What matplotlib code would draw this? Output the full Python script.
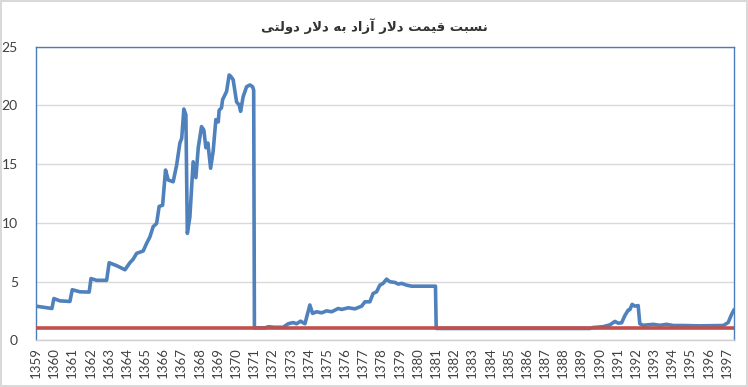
import matplotlib
matplotlib.use("Agg")
import matplotlib.pyplot as plt

# ====== DATA ======
# free-market dollar / official dollar ratio, by (fractional) Iranian year
years = [
    1359.00, 1359.88, 1359.99, 1360.32, 1360.87, 1361.00, 1361.42, 1361.93,
    1362.03, 1362.34, 1362.89, 1363.03, 1363.44, 1363.90, 1364.17, 1364.35,
    1364.54, 1364.90, 1365.09, 1365.27, 1365.45, 1365.64, 1365.78, 1365.97,
    1366.13, 1366.28, 1366.55, 1366.74, 1366.92, 1367.02, 1367.14, 1367.25,
    1367.33, 1367.47, 1367.65, 1367.80, 1367.93, 1368.11, 1368.24, 1368.35,
    1368.46, 1368.61, 1368.75, 1368.90, 1369.03, 1369.08, 1369.21, 1369.27,
    1369.49, 1369.63, 1369.71, 1369.85, 1370.04, 1370.18, 1370.26, 1370.40,
    1370.59, 1370.77, 1370.92, 1370.98, 1371.02, 1371.60, 1371.80, 1372.10,
    1372.60, 1372.88, 1373.15, 1373.34, 1373.56, 1373.80, 1374.07, 1374.22,
    1374.44, 1374.72, 1374.99, 1375.27, 1375.63, 1375.82, 1376.18, 1376.55,
    1376.92, 1377.10, 1377.37, 1377.55, 1377.74, 1377.92, 1378.10, 1378.29,
    1378.47, 1378.75, 1378.93, 1379.12, 1379.39, 1379.67, 1380.86, 1380.98,
    1381.02, 1389.47, 1389.65, 1390.20, 1390.57, 1390.85, 1391.03, 1391.22,
    1391.40, 1391.58, 1391.67, 1391.80, 1391.95, 1392.13, 1392.22, 1392.40,
    1392.96, 1393.32, 1393.69, 1394.06, 1394.60, 1395.50, 1396.81, 1397.08,
    1397.27, 1397.39,
]
free_ratio = [
    2.90, 2.70, 3.55, 3.35, 3.30, 4.30, 4.12, 4.10,
    5.25, 5.10, 5.10, 6.60, 6.35, 6.00, 6.60, 6.90,
    7.40, 7.60, 8.25, 8.80, 9.67, 9.95, 11.40, 11.50,
    14.50, 13.65, 13.50, 14.90, 16.80, 17.20, 19.70, 19.20,
    9.10, 10.50, 15.20, 13.85, 16.40, 18.20, 17.90, 16.40,
    16.80, 14.65, 16.10, 18.80, 18.60, 19.60, 19.80, 20.50,
    21.20, 22.60, 22.50, 22.20, 20.30, 20.05, 19.50, 20.75,
    21.60, 21.75, 21.60, 21.30, 1.05, 1.05, 1.15, 1.10,
    1.10, 1.40, 1.50, 1.40, 1.62, 1.40, 3.00, 2.28,
    2.42, 2.33, 2.50, 2.42, 2.70, 2.62, 2.76, 2.67,
    2.90, 3.27, 3.27, 3.98, 4.12, 4.69, 4.84, 5.20,
    4.98, 4.92, 4.78, 4.84, 4.69, 4.60, 4.60, 4.60,
    1.00, 1.00, 1.08, 1.15, 1.30, 1.60, 1.45, 1.48,
    2.10, 2.56, 2.60, 3.05, 2.90, 2.95, 1.40, 1.27,
    1.35, 1.27, 1.35, 1.25, 1.25, 1.22, 1.25, 1.50,
    2.20, 2.55,
]

# official rate reference (ratio = 1)
official_years = [1359.00, 1397.39]
official_ratio = [1.0, 1.0]

tick_years = list(range(1359, 1398))
y_ticks = [0, 5, 10, 15, 20, 25]

# title, shaped by hand (Arabic presentation forms, logical order)
title_logical = (
    "\uFEE7\uFEB4\uFE92\uFE96 "          # nesbat
    "\uFED7\uFEF4\uFEE4\uFE96 "          # gheymat
    "\uFEA9\uFEFB\uFEAD "                # dolar
    "\uFE81\uFEAF\uFE8D\uFEA9 "          # azad
    "\uFE91\uFEEA "                      # be
    "\uFEA9\uFEFB\uFEAD "                # dolar
    "\uFEA9\uFEED\uFEDF\uFE98\uFEF0"     # dolati
)
title_text = title_logical[::-1]  # visual (right-to-left) order

# ====== PLOTTING ======
fig = plt.figure(figsize=(7.48, 3.87), dpi=100)
fig.patch.set_facecolor("white")
fig.patch.set_edgecolor("#d9d9d9")
fig.patch.set_linewidth(1.5)

ax = fig.add_axes([0.048, 0.121, 0.933, 0.758])

ax.plot(years, free_ratio, color="#4F81BD", linewidth=2.6,
        solid_joinstyle="round", zorder=3)
ax.plot(official_years, official_ratio, color="#C0504D", linewidth=2.6,
        zorder=4)

ax.set_xlim(1359.0, 1397.39)
ax.set_ylim(0, 25)
ax.set_yticks(y_ticks)
ax.set_xticks(tick_years)
ax.set_xticklabels([str(t) for t in tick_years], rotation=90)

ax.grid(axis="y", color="#d9d9d9", linewidth=1.0, zorder=0)
ax.set_axisbelow(True)

for side in ["left", "top", "right"]:
    ax.spines[side].set_color("#4a7ebb")
    ax.spines[side].set_linewidth(1.0)
ax.spines["bottom"].set_color("#d0d0d0")
ax.spines["bottom"].set_linewidth(1.0)

ax.tick_params(axis="y", length=0, pad=13, labelsize=10, labelcolor="#404040")
ax.tick_params(axis="x", length=0, pad=5, labelsize=9.5, labelcolor="#404040")
for lab in ax.get_xticklabels() + ax.get_yticklabels():
    lab.set_family(["Lato", "DejaVu Sans"])

fig.text(0.5, 0.933, title_text, ha="center", va="center", fontsize=9.5,
         fontweight="bold", color="#333333", family="DejaVu Sans")

fig.savefig("out.png", dpi=100)
